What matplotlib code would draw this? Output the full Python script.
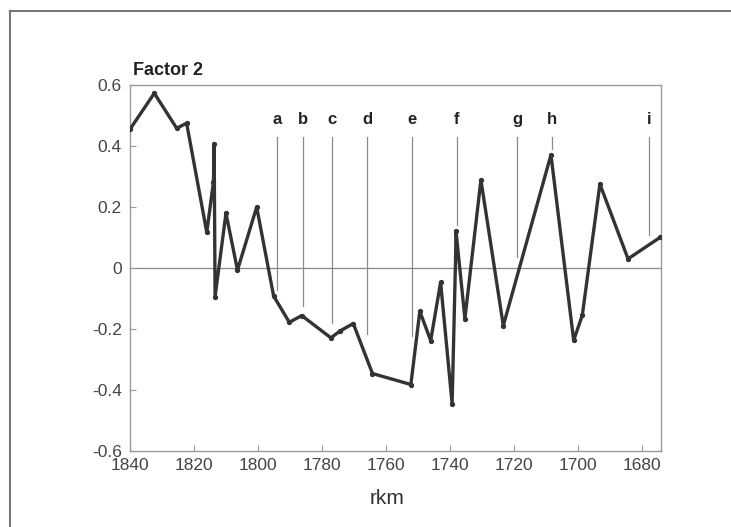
import matplotlib
matplotlib.use("Agg")
import matplotlib.pyplot as plt
from matplotlib.lines import Line2D

# factor 2 score along the river (rkm)
rkm = [1840.0, 1832.4, 1825.4, 1822.3, 1816.0, 1813.9, 1813.7, 1813.4,
       1810.0, 1806.4, 1800.4, 1795.1, 1790.2, 1786.3, 1777.2, 1774.4,
       1770.2, 1764.2, 1752.2, 1749.4, 1746.0, 1742.9, 1739.3, 1738.2,
       1738.1, 1735.3, 1730.3, 1723.3, 1708.4, 1701.3, 1698.6, 1693.1,
       1684.3, 1674.2]
factor2 = [0.455, 0.573, 0.458, 0.475, 0.117, 0.283, 0.408, -0.094,
           0.180, -0.007, 0.200, -0.092, -0.178, -0.156, -0.229, -0.207,
           -0.182, -0.346, -0.382, -0.142, -0.238, -0.047, -0.445, 0.040,
           0.122, -0.166, 0.289, -0.189, 0.371, -0.237, -0.155, 0.275,
           0.030, 0.101]

# marker lines a..i
mark_labels = ["a", "b", "c", "d", "e", "f", "g", "h", "i"]
mark_rkm = [1793.9, 1786.0, 1777.0, 1765.8, 1751.8, 1737.9, 1719.0, 1708.0, 1677.7]
mark_bottom = [-0.071, -0.126, -0.180, -0.218, -0.222, 0.142, 0.036, 0.390, 0.107]
mark_top = 0.431

xticks = [1840, 1820, 1800, 1780, 1760, 1740, 1720, 1700, 1680]
yticks = [-0.6, -0.4, -0.2, 0, 0.2, 0.4, 0.6]
ytick_labels = ["-0.6", "-0.4", "-0.2", "0", "0.2", "0.4", "0.6"]

plt.rcParams['font.family'] = ['Liberation Sans', 'DejaVu Sans']

fig = plt.figure(figsize=(7.31, 5.27), dpi=100)
ax = fig.add_axes([130 / 731, 1 - 451 / 527, 531 / 731, 366 / 527])

# outer frame (only top and left visible in the picture)
fig.add_artist(Line2D([10 / 731, 10 / 731], [0, 1 - 11 / 527], transform=fig.transFigure,
                      color="#777777", lw=1.5))
fig.add_artist(Line2D([10 / 731, 1], [1 - 11 / 527, 1 - 11 / 527], transform=fig.transFigure,
                      color="#777777", lw=1.5))

ax.axhline(0, color="#888888", lw=0.9, zorder=1)

for lab, x, yb in zip(mark_labels, mark_rkm, mark_bottom):
    ax.plot([x, x], [yb, mark_top], color="#8a8a8a", lw=0.9, zorder=1)
    ax.text(x, 0.486, lab, ha="center", va="center", fontsize=12,
            fontweight="bold", color="#222222")

ax.plot(rkm, factor2, color="#333333", lw=2.4, marker="o", markersize=2.8,
        solid_joinstyle="round", zorder=3)

ax.set_xlim(1840, 1674)
ax.set_ylim(-0.6, 0.6)
ax.set_xticks(xticks)
ax.set_yticks(yticks)
ax.set_yticklabels(ytick_labels)
ax.tick_params(direction="in", length=4, width=0.8, color="#999999",
               labelsize=12.5, labelcolor="#444444")
ax.tick_params(axis="x", pad=5)
ax.tick_params(axis="y", pad=6)
for lbl in ax.get_yticklabels():
    lbl.set_verticalalignment("center_baseline")
for sp in ax.spines.values():
    sp.set_color("#999999")
    sp.set_linewidth(1.0)

fig.text(133 / 731, 1 - 75 / 527, "Factor 2", fontsize=13, fontweight="bold",
         color="#222222", ha="left", va="baseline")
fig.text(387 / 731, 1 - 504 / 527, "rkm", fontsize=15, color="#333333",
         ha="center", va="baseline")

fig.savefig("out.png", dpi=100)
